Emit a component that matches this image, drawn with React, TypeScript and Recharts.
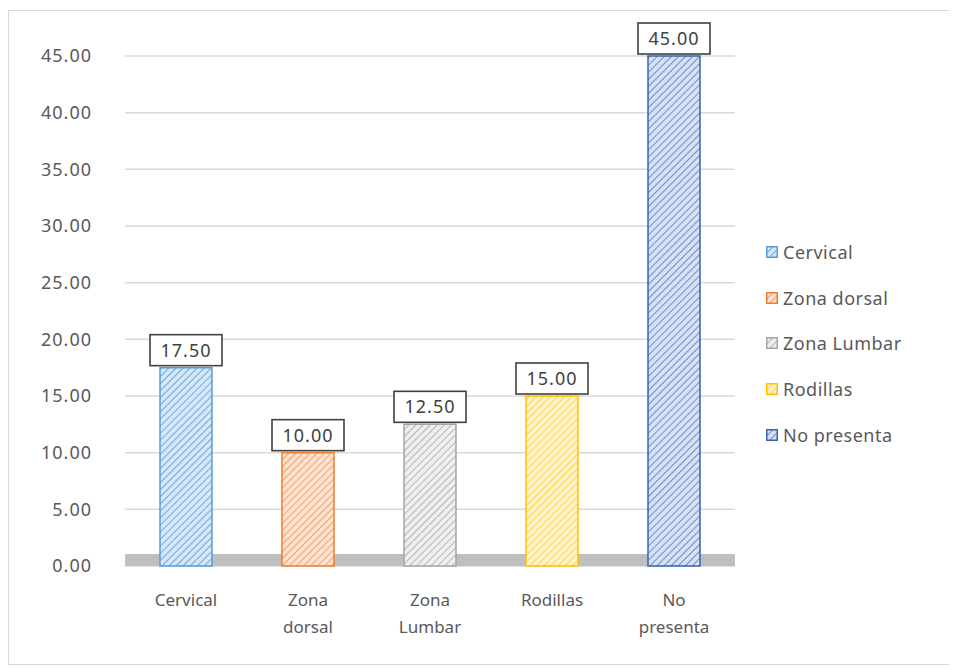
import { BarChart, Bar, XAxis, YAxis, CartesianGrid, Cell, LabelList, Legend, ReferenceArea } from 'recharts';

const categories = ['Cervical', 'Zona dorsal', 'Zona Lumbar', 'Rodillas', 'No presenta'];
const values = [17.5, 10.0, 12.5, 15.0, 45.0];
const yTicks = [0, 5, 10, 15, 20, 25, 30, 35, 40, 45];

// base fill, hatch line colour, outline colour per category
const baseColors = ['#d6e7f7', '#fde2cf', '#efefef', '#fff4c9', '#d7e1f4'];
const hatchColors = ['#6fa8dc', '#f2a06a', '#b5b5b5', '#ffd24d', '#6f8fd0'];
const edgeColors = ['#5b9bd5', '#ed7d31', '#a5a5a5', '#ffc000', '#3a62b0'];

const FONT = '"Noto Sans", "Open Sans", sans-serif';
const TEXT = '#595959';

const data = categories.map((name, i) => ({ name, value: values[i] }));

function HatchDefs() {
  return (
    <defs>
      {categories.map((_, i) => (
        <pattern
          key={i}
          id={`hatch-${i}`}
          patternUnits="userSpaceOnUse"
          width={5}
          height={5}
          patternTransform="rotate(45)"
        >
          <rect width={5} height={5} fill={baseColors[i]} />
          <line x1={0} y1={0} x2={0} y2={5} stroke={hatchColors[i]} strokeWidth={2} />
        </pattern>
      ))}
    </defs>
  );
}

function ValueBox(props: any) {
  const { x, y, width, value } = props;
  const cx = x + width / 2;
  return (
    <g>
      <rect x={cx - 36} y={y - 33} width={72} height={31} fill="#fff" stroke="#404040" strokeWidth={1.6} />
      <text
        x={cx}
        y={y - 11}
        textAnchor="middle"
        fontSize={18}
        letterSpacing={1}
        fontFamily={FONT}
        fill="#404040"
      >
        {Number(value).toFixed(2)}
      </text>
    </g>
  );
}

function CategoryTick(props: any) {
  const { x, y, payload } = props;
  const lines = String(payload.value).split(' ');
  return (
    <text x={x} y={y + 32} textAnchor="middle" fontSize={17} fontFamily={FONT} fill={TEXT}>
      {lines.map((line, i) => (
        <tspan key={i} x={x} dy={i === 0 ? 0 : 27}>
          {line}
        </tspan>
      ))}
    </text>
  );
}

function SideLegend() {
  return (
    <div style={{ width: 180, fontFamily: FONT }}>
      {categories.map((name, i) => (
        <div key={name} style={{ height: 45.7, display: 'flex', alignItems: 'center' }}>
          <svg width={12} height={12} style={{ marginRight: 5 }}>
            <rect x={0.75} y={0.75} width={10.5} height={10.5} fill={`url(#hatch-${i})`} stroke={edgeColors[i]} strokeWidth={1.5} />
          </svg>
          <span style={{ fontSize: 18, letterSpacing: 0.5, color: TEXT }}>{name}</span>
        </div>
      ))}
    </div>
  );
}

export default function App() {
  return (
    <div
      style={{
        marginTop: 2,
        width: 944,
        height: 655,
        border: '1px solid #d9d9d9',
        boxSizing: 'border-box',
        background: '#fff',
      }}
    >
      <BarChart width={942} height={653} data={data} margin={{ top: 45, right: 36, bottom: 28, left: 0 }}>
        <HatchDefs />
        <CartesianGrid vertical={false} stroke="#d9d9d9" strokeWidth={1.5} />
        <ReferenceArea y1={0} y2={1.05} fill="#bfbfbf" fillOpacity={1} stroke="none" />
        <XAxis
          dataKey="name"
          axisLine={false}
          tickLine={false}
          height={70}
          interval={0}
          tick={<CategoryTick />}
        />
        <YAxis
          domain={[0, 45]}
          ticks={yTicks}
          width={116}
          axisLine={false}
          tickLine={false}
          tickMargin={27}
          tickFormatter={(v: number) => v.toFixed(2)}
          tick={{ fontSize: 18, fill: TEXT, fontFamily: FONT, letterSpacing: 1 }}
        />
        <Legend
          layout="vertical"
          align="right"
          verticalAlign="middle"
          content={<SideLegend />}
          wrapperStyle={{ left: 757, top: 218 }}
        />
        <Bar dataKey="value" barSize={52} isAnimationActive={false}>
          {data.map((_, i) => (
            <Cell key={i} fill={`url(#hatch-${i})`} stroke={edgeColors[i]} strokeWidth={1.5} />
          ))}
          <LabelList dataKey="value" content={<ValueBox />} />
        </Bar>
      </BarChart>
    </div>
  );
}
